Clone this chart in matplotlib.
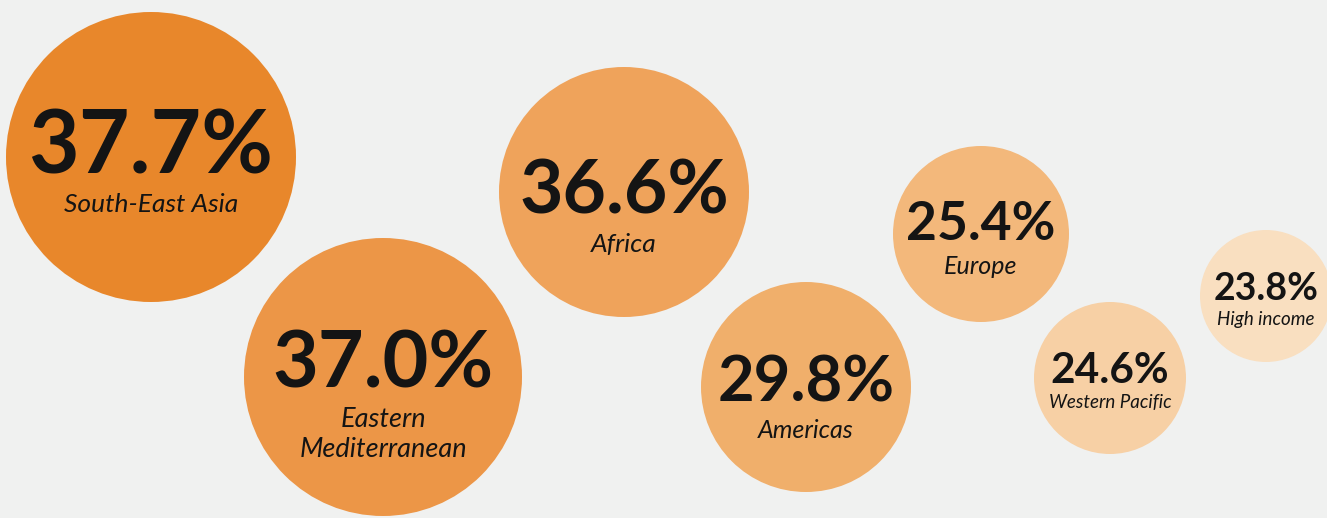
import matplotlib.pyplot as plt
from matplotlib.patches import Circle

# data
regions = ['South-East Asia', 'Eastern\nMediterranean', 'Africa', 'Americas',
           'Europe', 'Western Pacific', 'High income']
values = [37.7, 37.0, 36.6, 29.8, 25.4, 24.6, 23.8]

# layout (pixels, y down)
centers = [(151, 157), (383, 377), (624, 192), (806, 387),
           (981, 234), (1110, 378), (1266, 296)]
radii = [145, 139, 125, 105, 88, 76, 66]
colors = ['#E8872B', '#EC9647', '#EFA35B', '#F0AF6B',
          '#F3B87B', '#F7D0A5', '#F9DFC0']
num_size = [63, 57, 54, 45.5, 38.5, 30.5, 27]
num_base = [173, 388, 214, 402, 240, 383, 300]
lab_size = [19, 19.5, 19, 18, 18, 13.5, 13.5]
lab_base = [212, 457, 252, 438, 274, 408, 325]

bg = '#F0F1F0'
fig = plt.figure(figsize=(13.27, 5.18), dpi=100, facecolor=bg)
ax = fig.add_axes([0, 0, 1, 1])
ax.set_facecolor(bg)
ax.set_xlim(0, 1327)
ax.set_ylim(518, 0)
ax.set_aspect('equal')
ax.axis('off')

for i, v in enumerate(values):
    cx, cy = centers[i]
    ax.add_patch(Circle((cx, cy), radii[i], facecolor=colors[i], edgecolor='none'))
    ax.text(cx, num_base[i], f'{v:.1f}%', ha='center', va='baseline',
            fontsize=num_size[i], fontweight='bold', family='Lato', color='#141414')
    ax.text(cx, lab_base[i], regions[i], ha='center', va='baseline',
            fontsize=lab_size[i], style='italic', family='Lato',
            color='#141414', linespacing=1.25)

fig.savefig('out.png', dpi=100, facecolor=bg)
